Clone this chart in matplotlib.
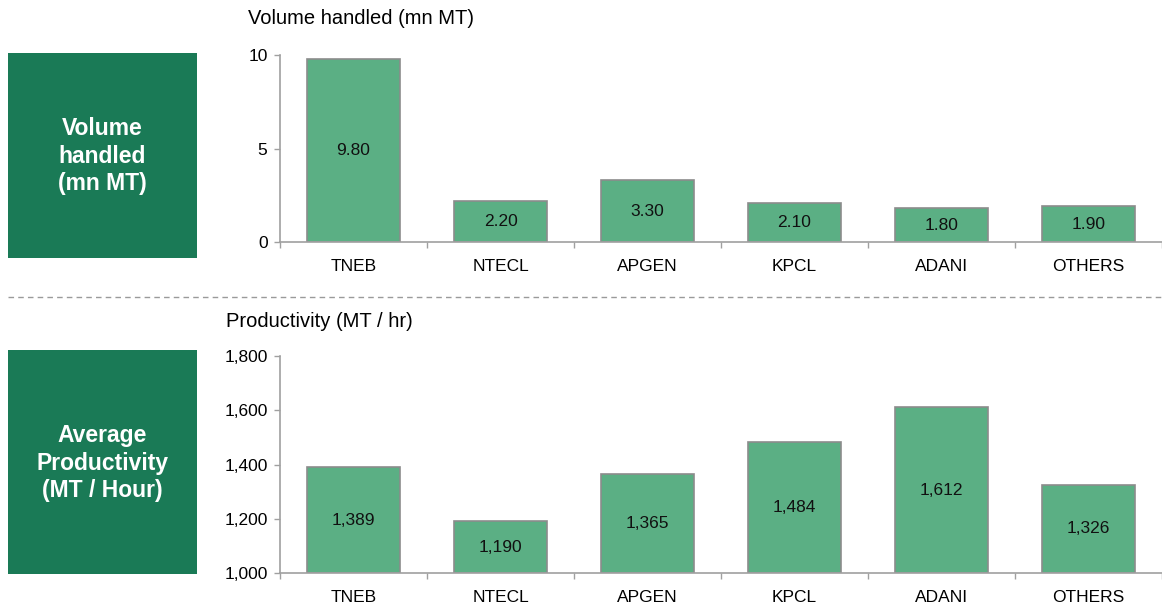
import numpy as np
import matplotlib
matplotlib.use('Agg')
import matplotlib.pyplot as plt
from matplotlib.lines import Line2D
from matplotlib.patches import Rectangle
from matplotlib.ticker import FuncFormatter

plt.rcParams['font.family'] = ['Liberation Sans', 'DejaVu Sans']

companies = ['TNEB', 'NTECL', 'APGEN', 'KPCL', 'ADANI', 'OTHERS']
volume = [9.80, 2.20, 3.30, 2.10, 1.80, 1.90]
productivity = [1389, 1190, 1365, 1484, 1612, 1326]

box_green = '#1A7A56'
bar_green = '#5BAF84'
edge_gray = '#8C8C8C'
axis_gray = '#A0A0A0'


def style_axis(ax):
    for s in ['top', 'right']:
        ax.spines[s].set_visible(False)
    for s in ['left', 'bottom']:
        ax.spines[s].set_color(axis_gray)
        ax.spines[s].set_linewidth(1.2)
    ax.set_xlim(-0.5, len(companies) - 0.5)
    ax.set_xticks(np.arange(len(companies)))
    ax.set_xticklabels(companies)
    ax.set_xticks(np.arange(-0.5, len(companies), 1.0), minor=True)
    ax.tick_params(axis='x', which='major', length=0, pad=12, labelsize=12.5)
    ax.tick_params(axis='x', which='minor', length=4, color=axis_gray, width=1)
    ax.tick_params(axis='y', length=4, color=axis_gray, width=1, pad=5, labelsize=12.5)


def bars(ax, vals, base, fmt):
    x = np.arange(len(vals))
    ax.bar(x, np.array(vals) - base, bottom=base, width=0.63, color=bar_green,
           edgecolor=edge_gray, linewidth=1.2, zorder=2)
    for xi, v in zip(x, vals):
        ax.text(xi, (base + v) / 2, fmt(v), ha='center', va='center', fontsize=12.5, color='#111111')


fig = plt.figure(figsize=(11.62, 6.09), dpi=100)

# top chart: volume
ax1 = fig.add_axes([0.241, 0.6026, 0.759, 0.3071])
bars(ax1, volume, 0, lambda v: f'{v:.2f}')
ax1.set_ylim(0, 10)
ax1.set_yticks([0, 5, 10])
style_axis(ax1)
fig.text(0.2134, 0.9704, 'Volume handled (mn MT)', fontsize=14.5, va='center', ha='left')

# bottom chart: productivity
ax2 = fig.add_axes([0.241, 0.0591, 0.759, 0.3563])
bars(ax2, productivity, 1000, lambda v: f'{v:,.0f}')
ax2.set_ylim(1000, 1800)
ax2.set_yticks([1000, 1200, 1400, 1600, 1800])
ax2.yaxis.set_major_formatter(FuncFormatter(lambda v, p: f'{v:,.0f}'))
style_axis(ax2)
fig.text(0.1945, 0.4729, 'Productivity (MT / hr)', fontsize=14.5, va='center', ha='left')

# green side boxes
fig.add_artist(Rectangle((0.0069, 0.5764), 0.1627, 0.3366, transform=fig.transFigure,
                         facecolor=box_green, edgecolor='none'))
fig.add_artist(Rectangle((0.0069, 0.0575), 0.1627, 0.3678, transform=fig.transFigure,
                         facecolor=box_green, edgecolor='none'))
fig.text(0.0882, 0.7438, 'Volume\nhandled\n(mn MT)', color='white', fontsize=16.5,
         fontweight='bold', ha='center', va='center', linespacing=1.25)
fig.text(0.0882, 0.2397, 'Average\nProductivity\n(MT / Hour)', color='white', fontsize=16.5,
         fontweight='bold', ha='center', va='center', linespacing=1.25)

# dashed separator
fig.add_artist(Line2D([0.0069, 1.0], [0.5123, 0.5123], transform=fig.transFigure,
                      color='#9A9A9A', linestyle=(0, (4, 3)), linewidth=1))

fig.savefig('out.png', dpi=100)
